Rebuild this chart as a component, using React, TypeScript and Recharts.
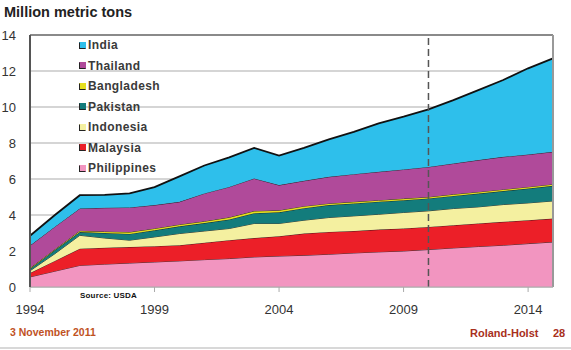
import { AreaChart, Area, XAxis, YAxis, CartesianGrid, ReferenceLine, Legend } from "recharts";

const years = [1994, 1995, 1996, 1997, 1998, 1999, 2000, 2001, 2002, 2003, 2004, 2005, 2006, 2007, 2008, 2009, 2010, 2011, 2012, 2013, 2014, 2015];

// million metric tons
const philippines = [0.56, 0.88, 1.2, 1.27, 1.33, 1.39, 1.45, 1.52, 1.58, 1.67, 1.72, 1.76, 1.82, 1.89, 1.95, 2.0, 2.08, 2.17, 2.25, 2.32, 2.41, 2.5];
const malaysia = [0.22, 0.57, 0.93, 0.91, 0.89, 0.88, 0.87, 0.94, 1.02, 1.05, 1.1, 1.21, 1.24, 1.22, 1.24, 1.25, 1.26, 1.26, 1.28, 1.3, 1.3, 1.3];
const indonesia = [0.12, 0.4, 0.74, 0.54, 0.38, 0.51, 0.65, 0.65, 0.65, 0.81, 0.71, 0.74, 0.8, 0.84, 0.85, 0.89, 0.89, 0.93, 0.92, 0.96, 0.96, 0.98];
const pakistan = [0.1, 0.2, 0.18, 0.28, 0.35, 0.37, 0.4, 0.44, 0.5, 0.57, 0.62, 0.67, 0.69, 0.69, 0.7, 0.68, 0.69, 0.7, 0.74, 0.75, 0.8, 0.84];
const bangladesh = [0.05, 0.05, 0.07, 0.08, 0.1, 0.1, 0.1, 0.1, 0.12, 0.12, 0.11, 0.11, 0.09, 0.09, 0.08, 0.09, 0.08, 0.09, 0.09, 0.09, 0.09, 0.09];
const thailand = [1.25, 1.25, 1.24, 1.32, 1.37, 1.3, 1.26, 1.55, 1.69, 1.81, 1.4, 1.41, 1.48, 1.54, 1.58, 1.62, 1.67, 1.71, 1.77, 1.81, 1.8, 1.8];
const india = [0.55, 0.65, 0.74, 0.72, 0.78, 1.0, 1.42, 1.55, 1.64, 1.7, 1.64, 1.83, 2.08, 2.35, 2.69, 2.93, 3.2, 3.52, 3.89, 4.27, 4.79, 5.19];

const xTicks = [1994, 1999, 2004, 2009, 2014];
const yTicks = [0, 2, 4, 6, 8, 10, 12, 14];

// bottom of the stack first
const series = [
  { key: "philippines", name: "Philippines", values: philippines, fill: "#f295c0" },
  { key: "malaysia", name: "Malaysia", values: malaysia, fill: "#ec1f28" },
  { key: "indonesia", name: "Indonesia", values: indonesia, fill: "#f4f0a0" },
  { key: "pakistan", name: "Pakistan", values: pakistan, fill: "#137c7c" },
  { key: "bangladesh", name: "Bangladesh", values: bangladesh, fill: "#e6df1e" },
  { key: "thailand", name: "Thailand", values: thailand, fill: "#b04a9a" },
  { key: "india", name: "India", values: india, fill: "#2ebfeb" },
];

const data = years.map((year, i) => {
  const row: Record<string, number> = { year };
  series.forEach((s) => {
    row[s.key] = s.values[i];
  });
  return row;
});

function LegendBox() {
  return (
    <div style={{ fontFamily: "Liberation Sans", fontSize: 12, fontWeight: "bold", color: "#3a3a3a", letterSpacing: 0.4 }}>
      {[...series].reverse().map((s) => (
        <div key={s.key} style={{ display: "flex", alignItems: "center", height: 20.5 }}>
          <span
            style={{
              display: "inline-block",
              width: 5,
              height: 5,
              background: s.fill,
              border: "1px solid #222",
              borderTopColor: s.fill,
              borderRightColor: s.fill,
              marginRight: 2,
            }}
          />
          {s.name}
        </div>
      ))}
    </div>
  );
}

export default function App() {
  return (
    <div style={{ position: "absolute", left: 0, top: 0, width: 571, height: 350, background: "#fff", fontFamily: "Liberation Sans" }}>
      <div style={{ position: "absolute", left: 4, top: 3, fontSize: 14.5, fontWeight: "bold", color: "#222", lineHeight: "18px" }}>
        Million metric tons
      </div>
      <AreaChart width={571} height={350} data={data} margin={{ top: 35, right: 18, left: 0, bottom: 33 }}>
        <CartesianGrid horizontal vertical={false} stroke="#ababab" strokeWidth={1} />
        <XAxis
          dataKey="year"
          type="number"
          domain={[1994, 2015]}
          ticks={xTicks}
          height={30}
          tickSize={5}
          tickMargin={13}
          tick={{ fill: "#333", fontSize: 13 }}
          tickLine={{ stroke: "#aaa" }}
          axisLine={{ stroke: "#aaa" }}
        />
        <YAxis
          domain={[0, 14]}
          ticks={yTicks}
          width={30}
          tickLine={false}
          tickSize={0}
          tickMargin={14}
          tick={{ fill: "#333", fontSize: 13 }}
          axisLine={{ stroke: "#555", strokeWidth: 2 }}
        />
        <Legend
          layout="vertical"
          align="center"
          verticalAlign="middle"
          wrapperStyle={{ position: "absolute", left: 79, top: 35, width: 120 }}
          content={() => <LegendBox />}
        />
        {series.map((s) => (
          <Area
            key={s.key}
            type="linear"
            dataKey={s.key}
            name={s.name}
            stackId="rice"
            fill={s.fill}
            fillOpacity={1}
            stroke="#111"
            strokeWidth={s.key === "india" ? 1.8 : 0.8}
            isAnimationActive={false}
          />
        ))}
        <ReferenceLine y={14} stroke="#8a8a8a" strokeWidth={2} />
        <ReferenceLine x={2015} stroke="#999" strokeWidth={2} />
        <ReferenceLine x={2010} stroke="#555" strokeWidth={1.5} strokeDasharray="7 4" />
      </AreaChart>
      <div style={{ position: "absolute", left: 80, top: 291, fontSize: 8, fontWeight: "bold", color: "#111", letterSpacing: 0.2 }}>
        Source: USDA
      </div>
      <div style={{ position: "absolute", left: 10, top: 326, fontSize: 10.5, fontWeight: "bold", color: "#c0521f" }}>
        3 November 2011
      </div>
      <div style={{ position: "absolute", left: 470, top: 327, fontSize: 11, fontWeight: "bold", color: "#a8301c" }}>
        Roland-Holst
      </div>
      <div style={{ position: "absolute", left: 553, top: 327, fontSize: 11, fontWeight: "bold", color: "#a8301c" }}>
        28
      </div>
      <div style={{ position: "absolute", left: 0, top: 347, width: 571, height: 2, background: "#d8d8d8" }} />
    </div>
  );
}
